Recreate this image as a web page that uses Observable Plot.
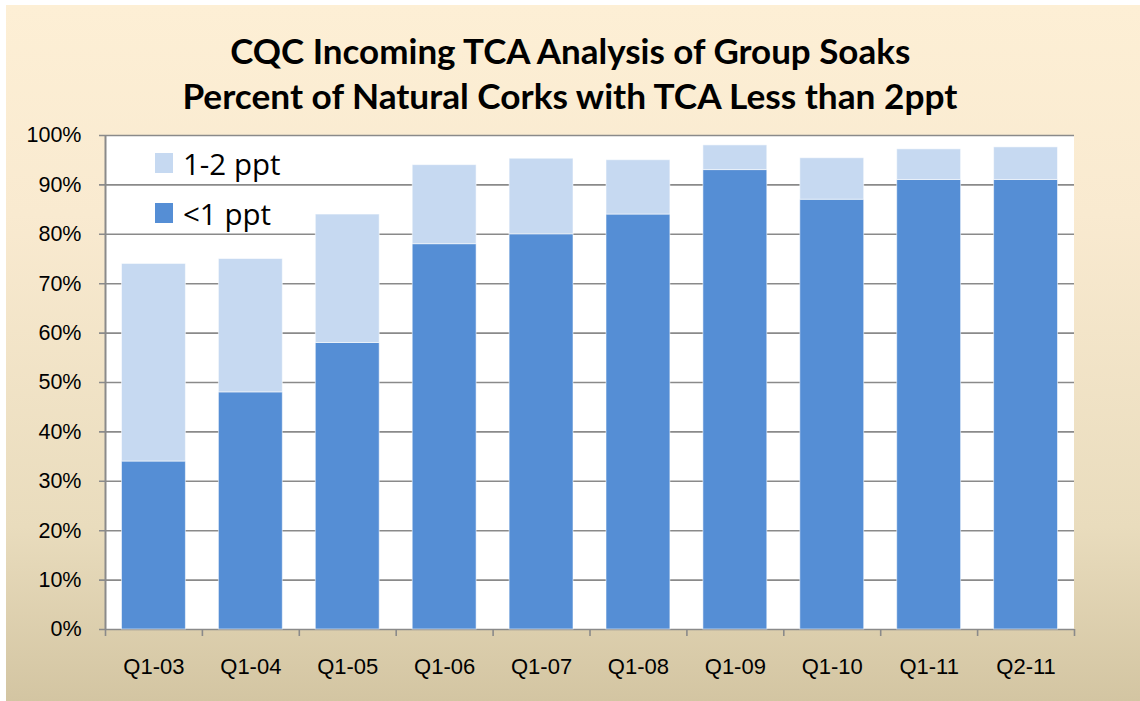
<!DOCTYPE html>
<html>
<head>
<meta charset="utf-8">
<script src="https://cdn.jsdelivr.net/npm/d3@7"></script>
<script src="https://cdn.jsdelivr.net/npm/@observablehq/plot@0.6"></script>
<style>
  html, body { margin: 0; padding: 0; background: #ffffff; }
  #wrap {
    position: absolute; left: 6px; top: 5px; width: 1134px; height: 696px;
    background: linear-gradient(to bottom, #fdefd5 0%, #f9ead0 30%, #e9dcbd 75%, #d3c5a2 100%);
  }
  #page { position: absolute; left: 0; top: 0; width: 1140px; height: 701px; }
  #title {
    position: absolute; left: 0; top: 0; width: 1140px; height: 120px;
    font-family: "Lato", "Open Sans", sans-serif;
    font-weight: bold; font-size: 35px; color: #000; text-align: center; line-height: 45px;
    padding-top: 28px; box-sizing: border-box;
  }
  #title div { display: block; white-space: nowrap; }
  #title span { display: inline-block; transform-origin: center; }
  #chart { position: absolute; left: 0; top: 120px; }
  #legend { position: absolute; left: 155px; top: 148px; font-family: "Open Sans", sans-serif; font-size: 29.5px; color: #000; }
  .li { display: flex; align-items: center; height: 30px; margin-bottom: 20px; }
  .sw { width: 18px; height: 20px; margin-right: 10px; }
</style>
</head>
<body>
<div id="wrap"></div>
<div id="page">
  <div id="title"><div><span id="t1">CQC Incoming TCA Analysis of Group Soaks</span></div><div><span id="t2">Percent of Natural Corks with TCA Less than 2ppt</span></div></div>
  <div id="chart"></div>
  <div id="legend"></div>
</div>
<script>
const categories = ["Q1-03","Q1-04","Q1-05","Q1-06","Q1-07","Q1-08","Q1-09","Q1-10","Q1-11","Q2-11"];
const below1 = [34, 48, 58, 78, 80, 84, 93, 87, 91, 91];
const total = [74, 75, 84, 94, 95.3, 95, 98, 95.4, 97.2, 97.6];
const seriesNames = ["<1 ppt", "1-2 ppt"];
const seriesColors = ["#558ed5", "#c6d9f1"];
const yTicks = [0,10,20,30,40,50,60,70,80,90,100];

const rows = [];
categories.forEach((c, i) => {
  rows.push({i, cat: c, series: seriesNames[0], value: below1[i]});
  rows.push({i, cat: c, series: seriesNames[1], value: +(total[i] - below1[i]).toFixed(2)});
});

const boundaries = d3.range(categories.length + 1);
const centers = categories.map((c, i) => i + 0.5);

const chart = Plot.plot({
  width: 1140,
  height: 581,
  marginTop: 15,
  marginBottom: 72,
  marginLeft: 105,
  marginRight: 66,
  style: {background: "transparent", fontFamily: "'Liberation Sans', Arial, sans-serif", fontSize: "21px", color: "#000"},
  x: {domain: [0, categories.length], axis: null},
  y: {domain: [0, 100], axis: null},
  color: {domain: seriesNames, range: seriesColors},
  marks: [
    Plot.rectY([0], {x1: 0, x2: categories.length, y1: 0, y2: 100, fill: "white"}),
    Plot.ruleY(yTicks, {x1: 0, x2: categories.length, stroke: "#8a8a8a", strokeWidth: 1.6, insetLeft: -6}),
    Plot.rectY(rows, Plot.stackY({
      x1: d => d.i, x2: d => d.i + 1, y: "value", fill: "series",
      order: seriesNames,
      insetLeft: 16.5, insetRight: 16.5,
      stroke: "white", strokeOpacity: 0.55, strokeWidth: 1
    })),
    Plot.ruleX([0], {y1: 0, y2: 100, stroke: "#8a8a8a", strokeWidth: 2}),
    Plot.axisY({ticks: yTicks, tickFormat: d => d + "%", tickSize: 0, tickPadding: 24, fontSize: 21.5, label: null}),
    Plot.axisX({ticks: boundaries, tickFormat: () => "", tickSize: 7, stroke: "#8a8a8a", strokeWidth: 1.6, label: null}),
    Plot.axisX({ticks: centers, tickFormat: d => categories[Math.floor(d)], tickSize: 0, tickPadding: 29, fontSize: 22, label: null})
  ]
});
document.getElementById("chart").appendChild(chart);

const legend = document.getElementById("legend");
[1, 0].forEach(k => {
  const row = document.createElement("div");
  row.className = "li";
  const sw = document.createElement("div");
  sw.className = "sw";
  sw.style.background = seriesColors[k];
  const t = document.createElement("span");
  t.textContent = seriesNames[k];
  row.appendChild(sw); row.appendChild(t);
  legend.appendChild(row);
});

// fit title lines to the reference widths
[["t1", 680], ["t2", 775]].forEach(([id, w]) => {
  const el = document.getElementById(id);
  const cw = el.getBoundingClientRect().width;
  if (cw > 0) el.style.transform = `scaleX(${w / cw})`;
});
</script>
</body>
</html>
